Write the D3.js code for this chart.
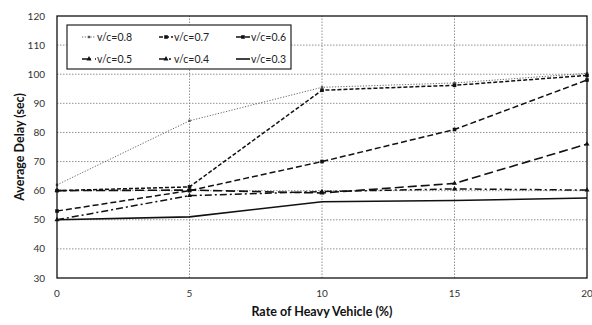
<!DOCTYPE html>
<html lang="en">
<head>
  <meta charset="UTF-8">
  <title>Average Delay vs Rate of Heavy Vehicle</title>
  <script src="https://d3js.org/d3.v7.min.js"></script>
  <style>
    body { margin: 0; background: #fff; }
    svg { display: block; }
    .tick-label { font-family: 'Lato', 'Open Sans', sans-serif; font-size: 10px; fill: #333; }
    .axis-title { font-family: 'Lato', 'Open Sans', sans-serif; font-size: 12.5px; font-weight: bold; fill: #111; }
    .legend-text { font-family: 'Lato', 'Open Sans', sans-serif; font-size: 10.5px; fill: #222; }
  </style>
</head>
<body>
  <div id="chart"></div>
  <script>
    // Data
    const rates = [0, 5, 10, 15, 20];
    const seriesNames = ["v/c=0.8", "v/c=0.7", "v/c=0.6", "v/c=0.5", "v/c=0.4", "v/c=0.3"];
    const vc08 = [62, 84, 95.5, 97, 100.3];
    const vc07 = [60, 61.3, 94.5, 96.2, 99.6];
    const vc06 = [53, 60, 70, 81, 98];
    const vc05 = [60, 60.2, 59.2, 62.5, 76];
    const vc04 = [50, 58.3, 59.7, 60.6, 60.2];
    const vc03 = [50, 51, 56.2, 56.6, 57.5];
    const yTicks = [30, 40, 50, 60, 70, 80, 90, 100, 110, 120];
    const xTicks = [0, 5, 10, 15, 20];

    const allSeries = [vc08, vc07, vc06, vc05, vc04, vc03];
    const styles = [
      { dash: "1.2,1.6", width: 0.9, color: "#555", marker: "tick" },
      { dash: "4,2",     width: 1.5, color: "#111", marker: "square" },
      { dash: "6,3",     width: 1.5, color: "#111", marker: "square" },
      { dash: "9,4",     width: 1.6, color: "#111", marker: "tri" },
      { dash: "7,3,2,3", width: 1.5, color: "#111", marker: "tri" },
      { dash: null,      width: 1.6, color: "#111", marker: "none" }
    ];

    const W = 592, H = 325;
    const svg = d3.select("#chart").append("svg")
      .attr("width", W).attr("height", H);

    const x = d3.scaleLinear().domain([0, 20]).range([57, 587]);
    const y = d3.scaleLinear().domain([30, 120]).range([278, 16]);

    // grid
    svg.append("g").selectAll("line")
      .data(yTicks.slice(1, -1))
      .enter().append("line")
      .attr("x1", x(0)).attr("x2", x(20))
      .attr("y1", d => y(d)).attr("y2", d => y(d))
      .attr("stroke", "#777").attr("stroke-width", 0.8)
      .attr("stroke-dasharray", "1.5,1.5");

    svg.append("g").selectAll("line")
      .data(xTicks.slice(1, -1))
      .enter().append("line")
      .attr("x1", d => x(d)).attr("x2", d => x(d))
      .attr("y1", y(30)).attr("y2", y(120))
      .attr("stroke", "#777").attr("stroke-width", 0.8)
      .attr("stroke-dasharray", "1.5,1.5");

    // tick labels
    svg.append("g").selectAll("text")
      .data(yTicks)
      .enter().append("text")
      .attr("class", "tick-label")
      .attr("x", 45).attr("y", d => y(d) + 3.5)
      .attr("text-anchor", "end")
      .text(d => d);

    svg.append("g").selectAll("text")
      .data(xTicks)
      .enter().append("text")
      .attr("class", "tick-label")
      .attr("x", d => x(d)).attr("y", 297)
      .attr("text-anchor", "middle")
      .text(d => d);

    // axis titles
    svg.append("text")
      .attr("class", "axis-title")
      .attr("transform", `translate(24, ${(y(30) + y(120)) / 2}) rotate(-90)`)
      .attr("text-anchor", "middle")
      .text("Average Delay (sec)");

    svg.append("text")
      .attr("class", "axis-title")
      .attr("x", (x(0) + x(20)) / 2).attr("y", 316)
      .attr("text-anchor", "middle")
      .text("Rate of Heavy Vehicle (%)");

    // lines
    const line = d3.line().x((d, i) => x(rates[i])).y(d => y(d));

    function drawMarker(g, type, cx, cy, color) {
      if (type === "square") {
        g.append("rect").attr("x", cx - 1.8).attr("y", cy - 1.8)
          .attr("width", 3.6).attr("height", 3.6).attr("fill", color);
      } else if (type === "tri") {
        g.append("path")
          .attr("d", d3.symbol().type(d3.symbolTriangle).size(11)())
          .attr("transform", `translate(${cx},${cy})`).attr("fill", color);
      } else if (type === "tick") {
        g.append("rect").attr("x", cx - 1.2).attr("y", cy - 1.2)
          .attr("width", 2.4).attr("height", 2.4).attr("fill", color);
      }
    }

    allSeries.forEach((vals, k) => {
      const s = styles[k];
      const g = svg.append("g");
      g.append("path")
        .datum(vals)
        .attr("d", line)
        .attr("fill", "none")
        .attr("stroke", s.color)
        .attr("stroke-width", s.width)
        .attr("stroke-dasharray", s.dash);
      vals.forEach((v, i) => drawMarker(g, s.marker, x(rates[i]), y(v), s.color));
    });

    // plot border
    svg.append("rect")
      .attr("x", x(0)).attr("y", y(120))
      .attr("width", x(20) - x(0)).attr("height", y(30) - y(120))
      .attr("fill", "none").attr("stroke", "#111").attr("stroke-width", 1.3);

    // legend
    const lg = svg.append("g");
    lg.append("rect")
      .attr("x", 67).attr("y", 25).attr("width", 224).attr("height", 44)
      .attr("fill", "#fff").attr("stroke", "#222").attr("stroke-width", 1.2);

    seriesNames.forEach((name, k) => {
      const s = styles[k];
      const col = k % 3, row = Math.floor(k / 3);
      const lx = 82 + col * 77, ly = 37 + row * 22;
      lg.append("line")
        .attr("x1", lx).attr("x2", lx + 14)
        .attr("y1", ly).attr("y2", ly)
        .attr("stroke", s.color).attr("stroke-width", s.width)
        .attr("stroke-dasharray", s.dash);
      drawMarker(lg, s.marker, lx + 7, ly, s.color);
      lg.append("text")
        .attr("class", "legend-text")
        .attr("x", lx + 15).attr("y", ly + 3.8)
        .text(name);
    });
  </script>
</body>
</html>
